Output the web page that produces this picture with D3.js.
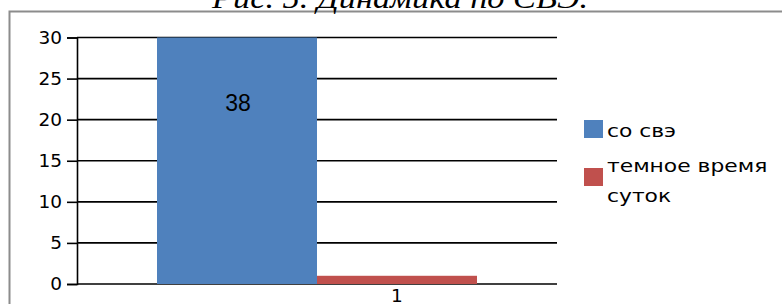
<!DOCTYPE html>
<html>
<head>
<meta charset="utf-8">
<script src="https://cdn.jsdelivr.net/npm/d3@7"></script>
<style>
  body { margin: 0; background: #fff; }
  text { font-family: "DejaVu Sans", sans-serif; }
</style>
</head>
<body>
<script>
// Chart data
const categories = ["1"];
const seriesNames = ["со свэ", "темное время суток"];
const seriesValues = [38, 1];
const seriesColors = ["#4f81bd", "#c0504d"];
const yTicks = [0, 5, 10, 15, 20, 25, 30];

const width = 782;
const height = 304;
const plot = { left: 77, right: 557, top: 37.5, bottom: 284 };

const svg = d3
  .select("body")
  .append("svg")
  .attr("width", width)
  .attr("height", height);

// Outer chart border (cut off at right and bottom)
svg
  .append("rect")
  .attr("x", 9.5)
  .attr("y", 11.5)
  .attr("width", 800)
  .attr("height", 400)
  .attr("fill", "none")
  .attr("stroke", "#8c8c8c")
  .attr("stroke-width", 2);

// Caption above the chart, partly hidden
svg
  .append("text")
  .attr("x", 400)
  .attr("y", 8)
  .attr("text-anchor", "middle")
  .attr("textLength", 376)
  .attr("lengthAdjust", "spacingAndGlyphs")
  .style("font-family", "'Liberation Serif', serif")
  .style("font-style", "italic")
  .style("font-size", "30px")
  .attr("fill", "#000")
  .text("Рис. 5. Динамика по СВЭ.");

const y = d3.scaleLinear().domain([0, 30]).range([plot.bottom, plot.top]);

const x0 = d3
  .scaleBand()
  .domain(categories)
  .range([plot.left, plot.right])
  .paddingInner(0)
  .paddingOuter(0.25);

const x1 = d3
  .scaleBand()
  .domain(seriesNames)
  .range([0, x0.bandwidth()]);

// Horizontal gridlines
svg
  .selectAll(".grid")
  .data(yTicks)
  .enter()
  .append("line")
  .attr("x1", plot.left)
  .attr("x2", plot.right)
  .attr("y1", (d) => y(d))
  .attr("y2", (d) => y(d))
  .attr("stroke", "#000")
  .attr("stroke-width", 1.6);

// Clip bars to plot area (the 38 bar runs past the axis max)
svg
  .append("clipPath")
  .attr("id", "plot-clip")
  .append("rect")
  .attr("x", plot.left)
  .attr("y", plot.top)
  .attr("width", plot.right - plot.left)
  .attr("height", plot.bottom - plot.top);

const bars = svg.append("g").attr("clip-path", "url(#plot-clip)");

bars
  .selectAll("rect")
  .data(seriesValues)
  .enter()
  .append("rect")
  .attr("x", (d, i) => x0(categories[0]) + x1(seriesNames[i]))
  .attr("y", (d) => y(d))
  .attr("width", x1.bandwidth())
  .attr("height", (d) => y(0) - y(d))
  .attr("fill", (d, i) => seriesColors[i]);

// Y axis
const yAxis = svg
  .append("g")
  .attr("transform", `translate(${plot.left},0)`)
  .call(d3.axisLeft(y).tickValues(yTicks).tickSize(10).tickPadding(5));

yAxis.select(".domain").attr("stroke", "#000").attr("stroke-width", 1.6);
yAxis.selectAll(".tick line").attr("stroke", "#000").attr("stroke-width", 1.6);
yAxis
  .selectAll(".tick text")
  .style("font-family", "'DejaVu Sans', sans-serif")
  .style("font-size", "18.5px")
  .attr("fill", "#000");

// Data labels
svg
  .append("text")
  .attr("x", x0(categories[0]) + x1(seriesNames[0]) + x1.bandwidth() / 2 + 1)
  .attr("y", y(30) + 73)
  .attr("text-anchor", "middle")
  .style("font-family", "'Liberation Sans', sans-serif")
  .style("font-size", "23px")
  .attr("fill", "#000")
  .text(seriesValues[0]);

svg
  .append("text")
  .attr("x", x0(categories[0]) + x1(seriesNames[1]) + x1.bandwidth() / 2)
  .attr("y", y(0) + 18)
  .attr("text-anchor", "middle")
  .style("font-size", "18.5px")
  .attr("fill", "#000")
  .text(seriesValues[1]);

// Legend
const legendLines = [
  { text: "со свэ", y: 137 },
  { text: "темное время", y: 172 },
  { text: "суток", y: 202 },
];
const legend = svg.append("g").attr("transform", "translate(584,0)");

legend
  .selectAll("rect")
  .data(seriesColors)
  .enter()
  .append("rect")
  .attr("x", 0)
  .attr("y", (d, i) => [120, 168][i])
  .attr("width", 19)
  .attr("height", 18)
  .attr("fill", (d) => d);

// legend text is drawn a little wider than the font, like the reference
legend
  .selectAll(".legend-label")
  .data(legendLines)
  .enter()
  .append("text")
  .attr("transform", (d) => `translate(23, ${d.y}) scale(1.18, 1)`)
  .style("font-size", "18.5px")
  .attr("fill", "#000")
  .text((d) => d.text);
</script>
</body>
</html>
